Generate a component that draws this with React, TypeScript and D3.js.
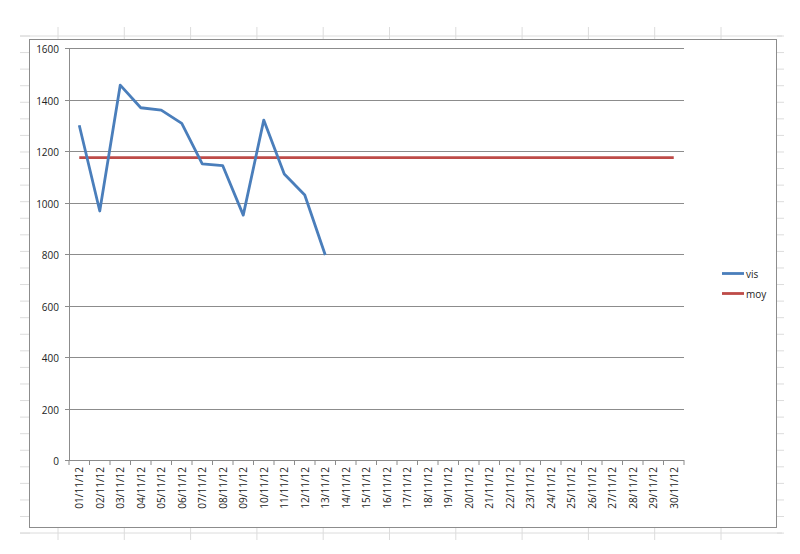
import React from "react";
import * as d3 from "d3";

const days: string[] = d3.range(1, 31).map((d) => `${String(d).padStart(2, "0")}/11/12`);
const visValues: number[] = [1300, 967, 1456, 1368, 1359, 1307, 1150, 1143, 951, 1320, 1111, 1029, 796];
const moyValue = 1174;
const moyValues: number[] = days.map(() => moyValue);
const yTicks: number[] = [0, 200, 400, 600, 800, 1000, 1200, 1400, 1600];
const seriesNames = ["vis", "moy"];
const seriesColors = ["#4a7ebb", "#be4b48"];

const W = 800;
const H = 554;
const FONT = "'Open Sans', 'Noto Sans', sans-serif";

export default function App() {
  const x = d3.scaleBand<string>().domain(days).range([69, 684]).padding(0);
  const y = d3.scaleLinear().domain([0, 1600]).range([460, 48]);
  const cx = (d: string) => (x(d) as number) + x.bandwidth() / 2;

  const line = d3
    .line<number>()
    .x((_, i) => cx(days[i]))
    .y((v) => y(v));

  // spreadsheet background cell lines
  const rowYs = d3.range(0, 31).map((k) => 36 + k * 16.57);
  const colXs = d3.range(0, 11).map((k) => 58 + k * 66.3);
  const cellColor = "#dcdcdc";

  const boundaries = d3.range(0, days.length + 1).map((i) => 69 + i * x.bandwidth());

  return (
    <svg
      width={W}
      height={H}
      style={{ position: "fixed", left: 0, top: 0, background: "#fff" }}
      fontFamily={FONT}
    >
      <rect x={0} y={0} width={W} height={H} fill="#fff" />
      {/* spreadsheet grid behind chart */}
      <line x1={20} x2={782} y1={36} y2={36} stroke={cellColor} />
      <line x1={20} x2={782} y1={533} y2={533} stroke={cellColor} />
      {colXs.map((cxv, i) => (
        <g key={"c" + i}>
          <line x1={cxv} x2={cxv} y1={27} y2={40} stroke={cellColor} />
          <line x1={cxv} x2={cxv} y1={528} y2={540} stroke={cellColor} />
        </g>
      ))}
      {rowYs.map((ry, i) => (
        <g key={"r" + i}>
          <line x1={20} x2={30} y1={ry} y2={ry} stroke={cellColor} />
          <line x1={777} x2={784} y1={ry} y2={ry} stroke={cellColor} />
        </g>
      ))}

      {/* chart area */}
      <rect x={29.5} y={39.5} width={747} height={488} fill="#fff" stroke="#8c8c8c" strokeWidth={1} />

      {/* gridlines */}
      {yTicks.map((t) => (
        <g key={"g" + t}>
          <line x1={65} x2={684} y1={Math.round(y(t)) + 0.5} y2={Math.round(y(t)) + 0.5} stroke="#8c8c8c" strokeWidth={1} />
          <text
            x={59}
            y={Math.round(y(t)) + 0.5}
            textAnchor="end"
            dominantBaseline="central"
            fontSize={10}
            fill="#222"
          >
            {t}
          </text>
        </g>
      ))}
      {/* y axis */}
      <line x1={69.5} x2={69.5} y1={y(1600)} y2={y(0)} stroke="#8c8c8c" />
      {/* x ticks */}
      {boundaries.map((bx, i) => (
        <line key={"xt" + i} x1={bx} x2={bx} y1={460} y2={465} stroke="#8c8c8c" />
      ))}
      {days.map((d) => (
        <text
          key={d}
          transform={`translate(${cx(d)},467) rotate(-90)`}
          textAnchor="end"
          dominantBaseline="central"
          fontSize={10}
          fill="#222"
        >
          {d}
        </text>
      ))}

      {/* series */}
      <path d={line(moyValues) || ""} fill="none" stroke={seriesColors[1]} strokeWidth={2.8} />
      <path
        d={line(visValues) || ""}
        fill="none"
        stroke={seriesColors[0]}
        strokeWidth={2.8}
        strokeLinejoin="round"
      />

      {/* legend */}
      {seriesNames.map((n, i) => (
        <g key={n} transform={`translate(722,${273.5 + i * 20})`}>
          <line x1={0} x2={22} y1={0} y2={0} stroke={seriesColors[i]} strokeWidth={2.8} />
          <text x={24} y={0} dominantBaseline="central" fontSize={10} fill="#222">
            {n}
          </text>
        </g>
      ))}
    </svg>
  );
}
